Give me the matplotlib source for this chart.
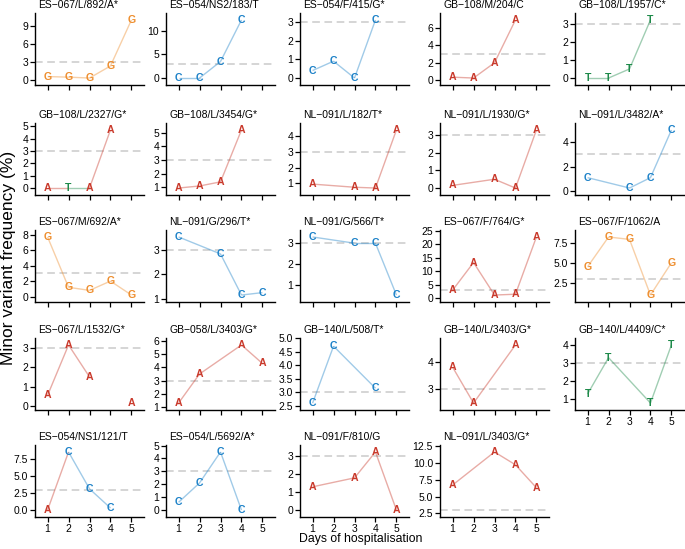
import numpy as np
import matplotlib
matplotlib.use("Agg")
import matplotlib.pyplot as plt

plt.rcParams['font.family'] = ['Liberation Sans', 'DejaVu Sans']

titles = [
    "ES\u2212067/L/892/A*", "ES\u2212054/NS2/183/T", "ES\u2212054/F/415/G*", "GB\u2212108/M/204/C", "GB\u2212108/L/1957/C*",
    "GB\u2212108/L/2327/G*", "GB\u2212108/L/3454/G*", "NL\u2212091/L/182/T*", "NL\u2212091/L/1930/G*", "NL\u2212091/L/3482/A*",
    "ES\u2212067/M/692/A*", "NL\u2212091/G/296/T*", "NL\u2212091/G/566/T*", "ES\u2212067/F/764/G*", "ES\u2212067/F/1062/A",
    "ES\u2212067/L/1532/G*", "GB\u2212058/L/3403/G*", "GB\u2212140/L/508/T*", "GB\u2212140/L/3403/G*", "GB\u2212140/L/4409/C*",
    "ES\u2212054/NS1/121/T", "ES\u2212054/L/5692/A*", "NL\u2212091/F/810/G", "NL\u2212091/L/3403/G*",
]

days = [
    [1, 2, 3, 4, 5], [1, 2, 3, 4], [1, 2, 3, 4], [1, 2, 3, 4], [1, 2, 3, 4],
    [1, 2, 3, 4], [1, 2, 3, 4], [1, 3, 4, 5], [1, 3, 4, 5], [1, 3, 4, 5],
    [1, 2, 3, 4, 5], [1, 3, 4, 5], [1, 3, 4, 5], [1, 2, 3, 4, 5], [1, 2, 3, 4, 5],
    [1, 2, 3, 4, 5], [1, 2, 4, 5], [1, 2, 4], [1, 2, 4], [1, 2, 4, 5],
    [1, 2, 3, 4], [1, 2, 3, 4], [1, 3, 4, 5], [1, 3, 4, 5],
]

freqs = [
    [0.5, 0.4, 0.25, 2.3, 10.1], [0.0, 0.0, 3.5, 12.3], [0.4, 0.9, 0.0, 3.1], [0.35, 0.25, 2.0, 6.9], [0.0, 0.0, 0.5, 3.2],
    [0.0, 0.0, 0.0, 4.7], [0.95, 1.1, 1.4, 5.2], [0.95, 0.75, 0.7, 4.4], [0.15, 0.5, 0.0, 3.3], [1.1, 0.25, 1.1, 5.0],
    [7.7, 1.2, 0.8, 2.0, 0.2], [3.55, 2.85, 1.15, 1.25], [3.3, 3.0, 3.0, 0.5], [3.0, 13.3, 1.2, 1.5, 22.8], [4.5, 8.2, 7.9, 1.0, 5.0],
    [0.55, 3.15, 1.5, np.nan, 0.15], [1.3, 3.5, 5.7, 4.3], [2.6, 4.7, 3.15], [3.8, 2.5, 4.6], [1.3, 3.3, 0.8, 4.0],
    [0.0, 8.5, 3.1, 0.3], [0.6, 2.1, 4.5, 0.0], [1.3, 1.8, 3.25, 0.0], [6.7, 11.6, 9.7, 6.3],
]

bases = [
    "GGGGG", "CCCC", "CCCC", "AAAA", "TTTT",
    "ATAA", "AAAA", "AAAA", "AAAA", "CCCC",
    "GGGGG", "CCCC", "CCCC", "AAAAA", "GGGGG",
    "AAAAA", "AAAA", "CCC", "AAA", "TTTT",
    "ACCC", "CCCC", "AAAA", "AAAA",
]

yticks = [
    [0, 3, 6, 9], [0, 5, 10], [0, 1, 2, 3], [0, 2, 4, 6], [0, 1, 2, 3],
    [0, 1, 2, 3, 4, 5], [1, 2, 3, 4, 5], [1, 2, 3, 4], [0, 1, 2, 3], [0, 2, 4],
    [0, 2, 4, 6, 8], [1, 2, 3], [1, 2, 3], [0, 5, 10, 15, 20, 25], [2.5, 5.0, 7.5],
    [0, 1, 2, 3], [1, 2, 3, 4, 5, 6], [2.5, 3.0, 3.5, 4.0, 4.5, 5.0], [3, 4], [1, 2, 3, 4],
    [0.0, 2.5, 5.0, 7.5], [0, 1, 2, 3, 4, 5], [0, 1, 2, 3], [2.5, 5.0, 7.5, 10.0, 12.5],
]

xticks = [1, 2, 3, 4, 5]
threshold = 3

base_colors = {"A": "#C9392B", "C": "#1E82C8", "G": "#EE8E2E", "T": "#1E8A4A"}

W, H = 685, 549
fig = plt.figure(figsize=(W / 100, H / 100), dpi=100)

col_left = [35, 166, 300, 440, 575]
row_top = [13, 123, 230, 338, 445]
pw, ph = 109, 72

labelled_x = {19, 20, 21, 22, 23}

for i, title in enumerate(titles):
    r, c = divmod(i, 5)
    ax = fig.add_axes([col_left[c] / W, 1 - (row_top[r] + ph) / H, pw / W, ph / H])
    x = np.array(days[i], dtype=float)
    y = np.array(freqs[i], dtype=float)
    b = bases[i]
    ax.axhline(threshold, color="#CACACA", lw=1.1, dashes=(5, 3), zorder=1)
    for k in range(len(x) - 1):
        if np.isnan(y[k]) or np.isnan(y[k + 1]):
            continue
        ax.plot(x[k:k + 2], y[k:k + 2], color=base_colors[b[k]], alpha=0.42, lw=1.0, zorder=2,
                solid_capstyle="butt")
    for k in range(len(x)):
        if np.isnan(y[k]):
            continue
        ax.text(x[k], y[k], b[k], color=base_colors[b[k]], fontsize=7.6, fontweight="bold",
                ha="center", va="center", zorder=3)
    valid = y[~np.isnan(y)]
    lo = min(valid.min(), threshold)
    hi = max(valid.max(), threshold)
    pad = 0.12 * (hi - lo)
    ax.set_ylim(lo - pad, hi + pad)
    ax.set_xlim(0.4, 5.6)
    ax.set_xticks(xticks)
    yt = yticks[i]
    ax.set_yticks(yt)
    if not any(isinstance(v, float) for v in yt):
        ax.set_yticklabels([str(int(v)) for v in yt])
    else:
        ax.set_yticklabels([f"{v:.1f}" for v in yt])
    if i in labelled_x:
        ax.set_xticklabels([str(v) for v in xticks])
    else:
        ax.set_xticklabels([])
    for s in ("top", "right"):
        ax.spines[s].set_visible(False)
    for s in ("left", "bottom"):
        ax.spines[s].set_linewidth(1.0)
        ax.spines[s].set_color("black")
    ax.tick_params(direction="out", length=3.5, width=0.9, labelsize=7.5, pad=1.5, colors="black")
    ax.text(0.03, 1 + 3 / ph, title, transform=ax.transAxes, ha="left", va="bottom", fontsize=7.5)

fig.text(0.527, 0.008, "Days of hospitalisation", ha="center", va="bottom", fontsize=8.8)
fig.text(0.002, 0.53, "Minor variant frequency (%)", ha="left", va="center", rotation=90, fontsize=12.5)

fig.savefig("out.png", dpi=100)
